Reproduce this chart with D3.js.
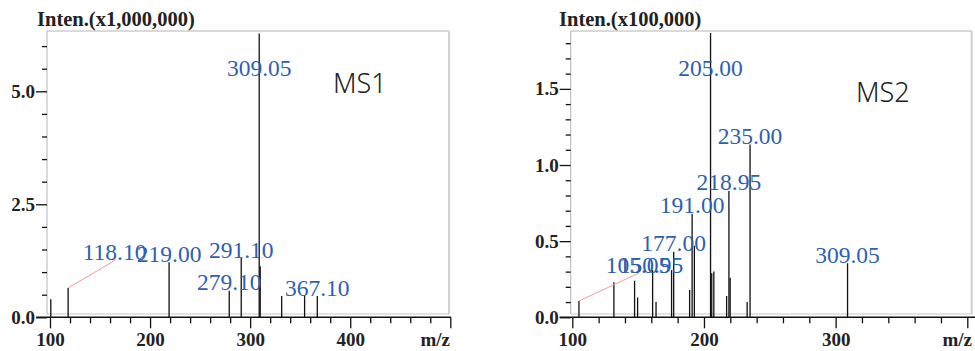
<!DOCTYPE html>
<html>
<head>
<meta charset="utf-8">
<script src="https://cdn.jsdelivr.net/npm/d3@7"></script>
<style>
  body { margin: 0; background: #fff; }
</style>
</head>
<body>
<div id="chart"></div>
<script>
// MS1 (Inten. x1,000,000) ------------------------------------------------------
const ms1Mz = [100.8, 118.10, 219.00, 279.10, 291.10, 309.05, 310.05, 331.5, 354.4, 367.10];
const ms1Int = [0.40, 0.65, 1.22, 0.59, 1.31, 6.28, 1.13, 0.47, 0.47, 0.47];
const ms1Labels = [118.10, 219.00, 279.10, 291.10, 309.05, 367.10];
const ms1MajorY = [0, 2.5, 5.0];
const ms1MinorY = [0.5, 1, 1.5, 2, 3, 3.5, 4, 4.5, 5.5, 6];
const ms1MajorX = [100, 200, 300, 400, 500];
const ms1LabelX = ['100', '200', '300', '400', ''];

// MS2 (Inten. x100,000) --------------------------------------------------------
const ms2Mz = [105.05, 131.6, 147.3, 149.6, 161.0, 163.6, 175.4, 177.00, 189.1, 191.00, 192.7,
  205.00, 205.9, 207.5, 217.2, 218.95, 219.9, 232.8, 235.00, 309.05];
const ms2Int = [0.107, 0.23, 0.24, 0.13, 0.31, 0.10, 0.31, 0.43, 0.18, 0.68, 0.47,
  1.867, 0.29, 0.30, 0.14, 0.83, 0.26, 0.10, 1.135, 0.355];
const ms2Labels = [105.05, 150.95, 177.00, 191.00, 205.00, 218.95, 235.00, 309.05];
const ms2MajorY = [0, 0.5, 1.0, 1.5];
const ms2MinorY = [0.1, 0.2, 0.3, 0.4, 0.6, 0.7, 0.8, 0.9, 1.1, 1.2, 1.3, 1.4, 1.6, 1.7, 1.8];
const ms2MajorX = [100, 200, 300, 400];
const ms2LabelX = ['100', '200', '300', ''];

const width = 975, height = 351;
const blue = '#2d5fb2';
const serif = '"Liberation Serif", "Times New Roman", serif';

const svg = d3.select('#chart').append('svg')
  .attr('width', width)
  .attr('height', height);

const drawSpectrum = (cfg) => {
  const g = svg.append('g');
  const xScale = d3.scaleLinear().domain(cfg.xDomain).range(cfg.xRange);
  const yScale = d3.scaleLinear().domain(cfg.yDomain).range([317.3, 31]);
  const left = cfg.frame[0], right = cfg.frame[1];
  const top = 31, bottom = 314;
  // 枠------------------------------------------------------------------------
  g.append('path')
    .attr('d', `M${left},${bottom}V${top}H${right}`)
    .attr('fill', 'none')
    .attr('stroke', '#b4b4b4')
    .attr('stroke-width', 1);
  g.append('line')
    .attr('x1', right).attr('x2', right)
    .attr('y1', top).attr('y2', bottom)
    .attr('stroke', '#d2d2d2')
    .attr('stroke-width', 2.2);
  g.append('line')
    .attr('x1', left).attr('x2', right)
    .attr('y1', bottom).attr('y2', bottom)
    .attr('stroke', '#c8c8c8')
    .attr('stroke-width', 1.2);
  // 縦軸------------------------------------------------------------------------
  const yMajor = d3.axisLeft(yScale)
    .tickValues(cfg.majorY)
    .tickSize(11)
    .tickPadding(1)
    .tickFormat(d3.format('.1f'));
  const yMinor = d3.axisLeft(yScale)
    .tickValues(cfg.minorY)
    .tickSize(5)
    .tickFormat('');
  [yMinor, yMajor].forEach(ax => {
    const gy = g.append('g')
      .attr('transform', `translate(${left},0)`)
      .call(ax);
    gy.select('.domain').remove();
    gy.selectAll('line').attr('stroke', '#111').attr('stroke-width', 1.3);
    gy.selectAll('text')
      .attr('font-family', serif)
      .attr('font-weight', 'bold')
      .attr('font-size', '19px')
      .attr('fill', '#222');
  });
  // 横軸------------------------------------------------------------------------
  const minorX = d3.range(cfg.xDomain[0], cfg.xDomain[1] + 1, 20)
    .filter(v => v % 100 !== 0);
  const xMajor = d3.axisBottom(xScale)
    .tickValues(cfg.majorX)
    .tickSize(11)
    .tickPadding(4)
    .tickFormat((d, i) => cfg.labelX[i]);
  const xMinor = d3.axisBottom(xScale)
    .tickValues(minorX)
    .tickSize(6)
    .tickFormat('');
  [xMinor, xMajor].forEach(ax => {
    const gx = g.append('g')
      .attr('transform', 'translate(0,317.3)')
      .call(ax);
    gx.select('.domain').remove();
    gx.selectAll('line').attr('stroke', '#111').attr('stroke-width', 1.3);
    gx.selectAll('text')
      .attr('font-family', serif)
      .attr('font-weight', 'bold')
      .attr('font-size', '19px')
      .attr('fill', '#222');
  });
  g.append('line')
    .attr('x1', left - 11).attr('x2', cfg.axisEnd)
    .attr('y1', 317.3).attr('y2', 317.3)
    .attr('stroke', '#111')
    .attr('stroke-width', 1.6);
  g.append('text')
    .text('m/z')
    .attr('x', cfg.mzRight)
    .attr('y', 346)
    .attr('text-anchor', 'end')
    .attr('font-family', serif)
    .attr('font-weight', 'bold')
    .attr('font-size', '19px')
    .attr('fill', '#222');
  // 縦軸タイトル------------------------------------------------------------------
  g.append('text')
    .text(cfg.yTitle)
    .attr('x', cfg.titleX)
    .attr('y', 26)
    .attr('font-family', serif)
    .attr('font-weight', 'bold')
    .attr('font-size', '20.5px')
    .attr('fill', '#222');
  // ピーク----------------------------------------------------------------------
  const peaks = cfg.mz.map((m, i) => ({ mz: m, v: cfg.inten[i] }));
  g.append('g')
    .selectAll('line')
    .data(peaks)
    .enter()
    .append('line')
    .attr('x1', d => xScale(d.mz))
    .attr('x2', d => xScale(d.mz))
    .attr('y1', yScale(0))
    .attr('y2', d => yScale(d.v))
    .attr('stroke', '#111')
    .attr('stroke-width', 1.3);
  // ラベル----------------------------------------------------------------------
  cfg.labels.forEach(m => {
    const near = peaks.reduce((a, b) => Math.abs(b.mz - m) < Math.abs(a.mz - m) ? b : a);
    const px = xScale(m), py = yScale(near.v);
    const shift = cfg.shift[m.toFixed(2)];
    let lx = px, ly = Math.max(py - 0.5, 75.5);
    if (shift) {
      lx = px + shift[0];
      ly = py + shift[1];
      if (shift[2]) {
        g.append('line')
          .attr('x1', px).attr('y1', py)
          .attr('x2', lx + 1).attr('y2', ly)
          .attr('stroke', '#f59a9a')
          .attr('stroke-width', 1);
      }
    }
    g.append('text')
      .text(m.toFixed(2))
      .attr('x', lx)
      .attr('y', ly)
      .attr('text-anchor', 'middle')
      .attr('font-family', serif)
      .attr('font-size', '23.5px')
      .attr('fill', blue);
  });
  // MS1 / MS2 ----------------------------------------------------------------------
  g.append('text')
    .text(cfg.name)
    .attr('x', cfg.nameX)
    .attr('y', cfg.nameY)
    .attr('font-family', '"Noto Sans", "DejaVu Sans", sans-serif')
    .attr('font-weight', 300)
    .attr('font-size', '27px')
    .attr('fill', '#222');
};

drawSpectrum({
  mz: ms1Mz, inten: ms1Int, labels: ms1Labels,
  majorY: ms1MajorY, minorY: ms1MinorY, majorX: ms1MajorX, labelX: ms1LabelX,
  xDomain: [100, 500], xRange: [50, 450.3],
  yDomain: [0, 6.334],
  frame: [47, 449], axisEnd: 451, mzRight: 450,
  yTitle: 'Inten.(x1,000,000)', titleX: 37,
  name: 'MS1', nameX: 333, nameY: 93,
  shift: { '118.10': [46.5, -28, true] }
});

drawSpectrum({
  mz: ms2Mz, inten: ms2Int, labels: ms2Labels,
  majorY: ms2MajorY, minorY: ms2MinorY, majorX: ms2MajorX, labelX: ms2LabelX,
  xDomain: [100, 400], xRange: [572.3, 967.3],
  yDomain: [0, 1.88],
  frame: [570.7, 971.7], axisEnd: 975, mzRight: 972,
  yTitle: 'Inten.(x100,000)', titleX: 559,
  name: 'MS2', nameX: 856, nameY: 101.5,
  shift: { '105.05': [59, -28, true], '150.95': [11.6, -24.5] }
});
</script>
</body>
</html>
